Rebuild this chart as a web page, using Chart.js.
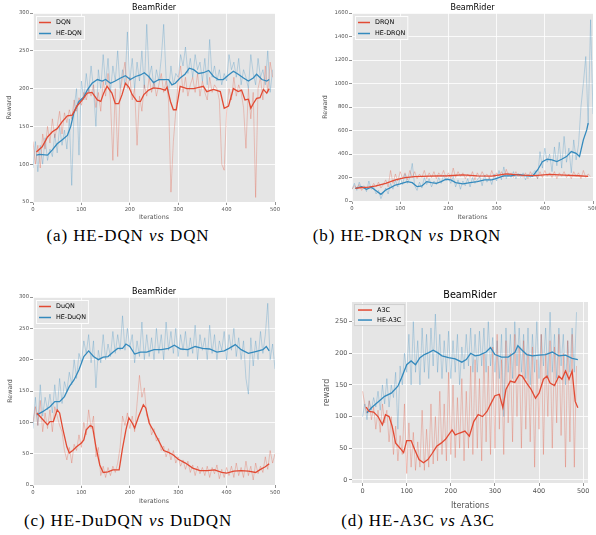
<!DOCTYPE html>
<html>
<head>
<meta charset="utf-8">
<script src="https://cdn.jsdelivr.net/npm/chart.js@4.4.1/dist/chart.umd.min.js"></script>
<style>
  body { margin: 0; background: #fff; width: 596px; height: 535px; position: relative; overflow: hidden; }
  canvas { position: absolute; }
  .pie { position: absolute; font-family: "Liberation Serif", "Times New Roman", serif; font-size: 17px; line-height: 17px;
         font-weight: normal; letter-spacing: 0.9px; color: #000; white-space: nowrap; transform: translateX(-50%); }
</style>
</head>
<body>
<canvas id="g_a" width="290" height="225" style="left:0;top:0"></canvas>
<canvas id="g_b" width="296" height="225" style="left:300px;top:0"></canvas>
<canvas id="g_c" width="290" height="225" style="left:0;top:280px"></canvas>
<canvas id="g_d" width="296" height="231" style="left:300px;top:280px"></canvas>
<div class="pie" style="left:128px;top:227px">(a) HE-DQN <i>vs</i> DQN</div>
<div class="pie" style="left:407px;top:227px">(b) HE-DRQN <i>vs</i> DRQN</div>
<div class="pie" style="left:128px;top:512px">(c) HE-DuDQN <i>vs</i> DuDQN</div>
<div class="pie" style="left:418px;top:512px">(d) HE-A3C <i>vs</i> A3C</div>
<script>
// Ejes
const xTicks = [0, 100, 200, 300, 400, 500];
const yTicksA = [50, 100, 150, 200, 250, 300];
const yTicksB = [0, 200, 400, 600, 800, 1000, 1200, 1400, 1600];
const yTicksC = [0, 50, 100, 150, 200, 250, 300];
const yTicksD = [0, 50, 100, 150, 200, 250];

// (a) datos crudos cada 5 iteraciones
const dqnRaw = [
  130,100,125,95,140,120,150,128,160,135,150,170,140,168,155,172,160,185,170,188,
  178,195,185,200,190,205,175,195,170,210,190,220,185,105,200,110,195,215,235,200,
  215,185,200,125,190,170,205,190,215,195,210,190,205,220,195,210,185,63,130,170,
  210,230,195,215,190,205,215,195,220,190,210,195,185,215,195,205,200,185,100,92,
  170,200,185,215,190,205,195,175,121,200,160,195,56,200,215,185,230,195,235,215];
const heDqnRaw = [
  95,130,90,125,100,135,105,120,110,140,115,150,125,145,120,160,72,175,200,112,
  210,185,220,195,230,200,150,225,200,245,205,240,195,230,210,250,200,225,205,275,
  210,240,200,235,210,250,200,285,215,230,200,225,210,240,285,215,195,230,205,220,
  215,245,230,255,220,240,215,245,225,235,210,240,205,265,215,230,210,225,205,220,
  210,245,225,235,215,240,205,225,215,200,245,220,205,240,215,225,205,250,195,225];
// (a) curvas suavizadas
const dqnSmoothX = [7,19,30,40,50,60,71,81,91,102,112,122,133,140,146,153,163,170,177,184,191,198,205,215,222,229,239,249,263,273,277,284,290,296,304,318,332,345,352,359,373,387,395,404,414,424,431,438,445,450,455,462,469,476,483,488];
const dqnSmooth = [116,123,136,143,147,156,164,165,177,185,194,195,185,183,194,203,194,180,180,192,207,202,192,183,183,192,198,201,200,198,202,183,172,172,203,200,200,202,203,196,199,196,174,177,200,196,198,185,186,174,180,187,188,199,194,200];
const heDqnSmoothX = [7,14,30,40,50,60,71,78,84,95,105,112,122,133,143,150,160,170,181,191,201,212,222,230,239,249,260,270,280,287,294,304,314,323,332,342,352,363,373,383,393,404,414,424,435,445,455,462,473,483,488];
const heDqnSmooth = [112,113,112,119,127,132,138,150,167,183,189,198,207,212,210,212,207,210,214,217,212,216,218,221,216,208,212,212,212,205,207,214,219,227,225,220,221,224,216,212,212,218,223,219,214,210,214,219,212,210,212];

// (b)
const drqnRaw = [
  100,130,110,140,90,120,100,130,110,150,120,160,110,140,180,120,260,150,230,170,
  250,190,240,180,260,200,250,190,230,200,260,190,240,200,250,190,240,210,260,200,
  240,190,280,200,250,210,240,190,230,200,250,180,240,200,250,210,230,190,260,200,
  240,210,250,200,270,210,240,200,250,210,230,200,240,190,250,210,230,190,250,200,
  260,210,240,200,250,190,240,210,250,200,230,190,250,210,240,190,260,200,230,210];
const heDrqnRaw = [
  100,150,90,160,110,130,80,170,100,120,60,90,20,70,110,60,150,100,180,120,
  200,140,230,150,200,320,130,90,160,110,200,140,190,120,170,140,200,150,220,170,
  200,150,210,120,180,100,170,130,190,120,200,150,180,210,130,220,160,200,140,230,
  170,260,180,290,190,240,200,250,190,230,200,240,180,230,200,240,260,190,420,280,
  450,330,400,250,460,300,500,280,550,330,450,240,520,350,480,800,1000,1230,650,1543,740];
const drqnSmoothX = [7,20,35,50,70,90,110,130,160,200,230,260,290,320,350,380,410,440,470,490];
const drqnSmooth = [108,115,118,128,150,179,199,207,212,215,222,214,212,230,220,216,227,220,215,210];
const heDrqnSmoothX = [7,20,30,40,50,60,70,80,90,100,115,125,135,145,155,165,175,185,195,205,215,230,245,260,275,290,300,315,330,345,360,375,385,395,405,415,425,435,445,455,465,472,480,487,490];
const heDrqnSmooth = [108,122,100,117,88,57,94,114,136,145,165,156,122,128,165,156,150,165,185,179,156,145,156,165,179,179,193,213,213,227,216,213,264,335,355,350,335,355,378,421,406,378,520,605,662];

// (c)
const duqnRaw = [
  100,125,95,135,85,115,90,120,85,125,110,95,85,55,40,60,35,65,55,80,
  60,100,80,120,90,110,45,60,15,30,12,28,15,30,20,35,60,110,95,115,
  90,110,85,130,175,140,155,110,105,80,90,70,75,55,62,45,58,40,55,35,
  45,30,40,25,38,20,32,15,30,18,28,15,30,12,28,18,32,10,25,12,
  28,15,30,12,35,15,28,12,38,15,30,8,35,18,30,20,45,25,55,35,50];
const heDuqnRaw = [
  90,140,95,160,110,140,120,145,115,160,120,170,130,165,150,180,160,200,170,210,
  195,230,210,240,195,230,155,215,195,240,200,225,205,245,210,240,215,270,215,250,
  220,240,195,230,205,260,200,240,205,235,200,250,210,240,200,260,215,245,210,250,
  205,240,215,245,205,235,210,255,200,240,215,235,200,255,210,240,200,230,215,245,
  200,240,215,250,205,235,200,230,170,145,235,190,230,200,245,210,240,290,200,225,185];
const duqnSmoothX = [8,15,22,30,35,42,50,55,62,70,75,82,90,100,105,110,118,123,130,138,145,155,165,178,185,192,198,205,210,218,228,233,240,250,262,270,280,290,300,315,330,345,360,375,390,400,415,430,445,460,470,480,488];
const duqnSmooth = [115,109,103,96,101,101,120,115,88,61,51,55,61,67,72,88,95,93,61,32,20,21,24,24,59,88,107,99,91,109,128,123,99,85,67,55,52,48,41,35,27,23,23,24,20,19,22,23,22,20,25,29,34];
const heDuqnSmoothX = [8,20,35,45,55,65,75,85,95,105,115,125,135,145,155,165,175,185,192,200,210,222,235,250,265,280,292,305,320,335,350,365,380,395,405,418,430,445,460,475,482,488];
const heDuqnSmooth = [112,117,125,133,133,141,157,168,184,205,214,205,200,204,205,212,218,218,225,221,209,212,212,216,216,218,223,217,216,221,218,217,212,214,218,224,216,210,213,216,221,214];

// (d)
const a3cRaw = [
  140,120,105,125,95,115,80,110,75,120,90,110,60,100,40,85,30,70,40,120,
  10,90,20,75,15,60,20,110,15,80,20,120,25,100,30,140,40,120,30,170,
  40,150,35,130,50,160,30,140,50,180,40,190,50,160,30,200,60,180,40,210,
  50,230,80,190,40,220,90,200,60,230,100,210,50,220,80,200,60,210,20,190,
  80,230,40,200,100,220,50,210,90,230,70,200,20,220,60,230,20,180];
const heA3cRaw = [
  100,120,95,125,110,130,115,140,110,150,120,160,115,150,130,170,80,180,150,200,
  170,230,150,250,170,220,150,240,170,230,160,240,180,262,170,230,160,220,170,235,
  160,220,170,230,150,210,175,230,180,240,170,230,170,235,180,240,170,250,180,225,
  170,220,160,230,100,240,170,230,160,250,180,240,170,230,160,240,150,230,170,250,
  160,230,180,240,160,265,170,230,160,240,180,230,150,220,170,240,170,265];
const a3cSmoothX = [8,15,25,35,45,52,60,67,75,85,93,100,110,118,128,138,148,158,168,178,188,195,203,210,220,232,242,252,262,272,282,292,300,310,318,325,335,345,355,362,372,382,392,400,410,418,425,435,445,452,460,468,475,482,488];
const a3cSmooth = [115,108,107,100,87,103,100,85,58,50,43,62,62,48,32,27,32,42,53,58,64,71,79,71,74,77,69,92,103,100,108,122,133,135,114,143,156,154,166,164,153,143,129,137,159,164,153,149,164,159,172,159,172,124,114];
const heA3cSmoothX = [10,20,35,50,65,80,90,100,110,120,130,140,150,160,170,180,195,210,225,235,245,255,265,280,290,300,315,330,345,352,360,372,385,400,415,430,445,460,475,488];
const heA3cSmooth = [106,114,123,132,137,148,164,182,188,182,193,198,201,205,201,196,193,191,186,190,200,196,197,202,209,198,194,194,201,212,206,198,196,197,198,202,196,197,192,190];

const FUENTE = '"DejaVu Sans"';
const ROJO = '#E24A33', AZUL = '#348ABD';
const ROJO_T = 'rgba(226,74,51,0.28)', AZUL_T = 'rgba(52,138,189,0.28)';

// Fondo gris del area del grafico
const fondo = {
  id: 'fondo',
  beforeDraw(chart) {
    const {ctx, chartArea: a} = chart;
    ctx.save();
    ctx.fillStyle = '#E5E5E5';
    ctx.fillRect(a.left, a.top, a.right - a.left, a.bottom - a.top);
    ctx.restore();
  }
};

// Leyenda dentro del area, arriba a la izquierda
const leyenda = {
  id: 'leyenda',
  afterDatasetsDraw(chart, args, o) {
    const {ctx, chartArea: a} = chart;
    const items = chart.data.datasets.filter(d => d.enLeyenda);
    ctx.save();
    ctx.font = o.fuente + 'px ' + FUENTE;
    const anchoTexto = Math.max(...items.map(d => ctx.measureText(d.label).width));
    const x = a.left + o.margen, y = a.top + o.margen;
    const w = o.pad + o.largo + o.hueco + anchoTexto + o.pad;
    const h = items.length * o.fila + 2;
    ctx.fillStyle = o.relleno;
    ctx.fillRect(x, y, w, h);
    ctx.strokeStyle = o.borde;
    ctx.lineWidth = 1;
    ctx.strokeRect(x + 0.5, y + 0.5, w - 1, h - 1);
    items.forEach((d, i) => {
      const yy = y + 1 + o.fila * (i + 0.5);
      ctx.strokeStyle = d.borderColor;
      ctx.lineWidth = 1.5;
      ctx.beginPath();
      ctx.moveTo(x + o.pad, yy);
      ctx.lineTo(x + o.pad + o.largo, yy);
      ctx.stroke();
      ctx.fillStyle = '#000';
      ctx.textBaseline = 'middle';
      ctx.fillText(d.label, x + o.pad + o.largo + o.hueco, yy);
    });
    ctx.restore();
  }
};

function linea(label, xs, ys, color, ancho, enLeyenda) {
  return {
    label: label,
    enLeyenda: enLeyenda,
    data: ys.map((y, i) => ({x: xs ? xs[i] : i * 5, y: y})),
    borderColor: color,
    borderWidth: ancho,
    pointRadius: 0,
    tension: 0,
    fill: false
  };
}

function crearPanel(id, p) {
  const ctx = document.getElementById(id).getContext('2d');
  const marcas = ticks => s => { s.ticks = ticks.map(v => ({value: v})); };
  const numero = v => String(v);
  return new Chart(ctx, {
    type: 'line',
    data: { datasets: p.datasets },
    options: {
      responsive: false,
      animation: false,
      devicePixelRatio: 1,
      events: [],
      layout: { padding: p.padding },
      plugins: {
        legend: { display: false },
        tooltip: { enabled: false },
        title: {
          display: true, text: 'BeamRider', color: '#000', fullSize: false,
          font: { family: FUENTE, size: p.tituloFuente, weight: 'normal' },
          padding: p.tituloPad
        },
        leyenda: p.leyenda
      },
      scales: {
        x: {
          type: 'linear', min: p.xMin, max: p.xMax,
          afterBuildTicks: marcas(xTicks),
          afterFit: s => { s.height = p.altoX; s.paddingLeft = 0; s.paddingRight = 0; },
          grid: { color: '#fff', lineWidth: 0.8, tickColor: '#777', tickLength: p.tick },
          border: { display: false },
          ticks: { color: '#555', font: { family: FUENTE, size: p.tickFuente }, padding: p.tickPad, maxRotation: 0, autoSkip: false, callback: numero },
          title: { display: true, text: 'Iterations', color: '#555', font: { family: FUENTE, size: p.ejeFuente }, padding: 0 }
        },
        y: {
          type: 'linear', min: p.yMin, max: p.yMax,
          afterBuildTicks: marcas(p.yTicks),
          afterFit: s => { s.width = p.anchoY; s.paddingTop = 0; s.paddingBottom = 0; },
          grid: { color: '#fff', lineWidth: 0.8, tickColor: '#777', tickLength: p.tick },
          border: { display: false },
          ticks: { color: '#555', font: { family: FUENTE, size: p.tickFuente }, padding: p.tickPad, autoSkip: false, callback: numero },
          title: { display: true, text: p.yTitulo, color: '#555', font: { family: FUENTE, size: p.ejeFuente }, padding: 0 }
        }
      }
    },
    plugins: [fondo, leyenda]
  });
}

const estiloViejo = {
  xMin: 0, xMax: 500, tituloFuente: 8, tickFuente: 5.3, ejeFuente: 6.3,
  tick: 3, tickPad: 1, yTitulo: 'Reward',
  leyenda: { fuente: 6.4, margen: 3, pad: 3, largo: 12, hueco: 5, fila: 11,
             relleno: 'rgba(229,229,229,0.95)', borde: 'rgba(255,255,255,0.9)' }
};

crearPanel('g_a', Object.assign({}, estiloViejo, {
  yMin: 50, yMax: 300, yTicks: yTicksA, anchoY: 27, altoX: 19,
  padding: { left: 6, right: 15, top: 0, bottom: 4 }, tituloPad: { top: 3, bottom: 0.4 },
  datasets: [
    linea('DQN', dqnSmoothX, dqnSmooth, ROJO, 1.3, true),
    linea('HE-DQN', heDqnSmoothX, heDqnSmooth, AZUL, 1.3, true),
    linea('DQN raw', null, dqnRaw, ROJO_T, 1, false),
    linea('HE-DQN raw', null, heDqnRaw, AZUL_T, 1, false)
  ]
}));

crearPanel('g_b', Object.assign({}, estiloViejo, {
  yMin: 0, yMax: 1600, yTicks: yTicksB, anchoY: 30, altoX: 20,
  padding: { left: 22, right: 3, top: 0, bottom: 4 }, tituloPad: { top: 3, bottom: 0.4 },
  datasets: [
    linea('DRQN', drqnSmoothX, drqnSmooth, ROJO, 1.3, true),
    linea('HE-DRQN', heDrqnSmoothX, heDrqnSmooth, AZUL, 1.3, true),
    linea('DRQN raw', null, drqnRaw, ROJO_T, 1, false),
    linea('HE-DRQN raw', null, heDrqnRaw, AZUL_T, 1, false)
  ]
}));

crearPanel('g_c', Object.assign({}, estiloViejo, {
  yMin: 0, yMax: 300, yTicks: yTicksC, anchoY: 26, altoX: 20,
  padding: { left: 7, right: 15, top: 4, bottom: 0 }, tituloPad: { top: 3, bottom: 0.4 },
  datasets: [
    linea('DuQN', duqnSmoothX, duqnSmooth, ROJO, 1.3, true),
    linea('HE-DuQN', heDuqnSmoothX, heDuqnSmooth, AZUL, 1.3, true),
    linea('DuQN raw', null, duqnRaw, ROJO_T, 1, false),
    linea('HE-DuQN raw', null, heDuqnRaw, AZUL_T, 1, false)
  ]
}));

crearPanel('g_d', {
  xMin: -24, xMax: 511, yMin: -5, yMax: 281, yTicks: yTicksD,
  tituloFuente: 9.7, tickFuente: 6.5, ejeFuente: 8, tick: 3, tickPad: 1.5, yTitulo: 'reward',
  anchoY: 30, altoX: 28,
  padding: { left: 22, right: 8, top: 0, bottom: 0 }, tituloPad: { top: 9.2, bottom: 1.2 },
  leyenda: { fuente: 6.5, margen: 2, pad: 4, largo: 14, hueco: 5, fila: 10,
             relleno: 'rgba(236,236,236,0.85)', borde: '#cfcfcf' },
  datasets: [
    linea('A3C', a3cSmoothX, a3cSmooth, ROJO, 1.3, true),
    linea('HE-A3C', heA3cSmoothX, heA3cSmooth, AZUL, 1.3, true),
    linea('A3C raw', null, a3cRaw, ROJO_T, 1, false),
    linea('HE-A3C raw', null, heA3cRaw, AZUL_T, 1, false)
  ]
});
</script>
</body>
</html>
